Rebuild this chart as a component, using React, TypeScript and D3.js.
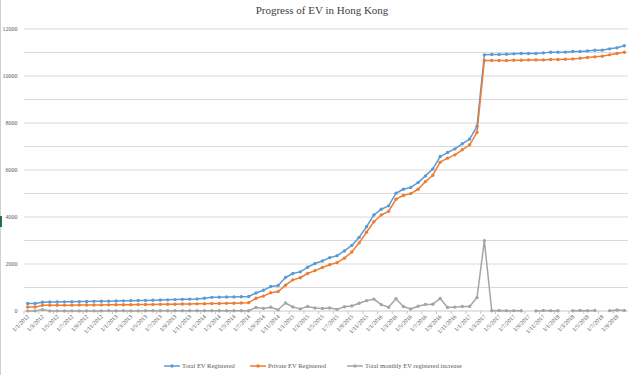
import React from "react";
import * as d3 from "d3";

const categories: string[] = [
  "1/1/2012","1/2/2012","1/3/2012","1/4/2012","1/5/2012","1/6/2012","1/7/2012","1/8/2012","1/9/2012","1/10/2012","1/11/2012","1/12/2012",
  "1/1/2013","1/2/2013","1/3/2013","1/4/2013","1/5/2013","1/6/2013","1/7/2013","1/8/2013","1/9/2013","1/10/2013","1/11/2013","1/12/2013",
  "1/1/2014","1/2/2014","1/3/2014","1/4/2014","1/5/2014","1/6/2014","1/7/2014","1/8/2014","1/9/2014","1/10/2014","1/11/2014","1/12/2014",
  "1/1/2015","1/2/2015","1/3/2015","1/4/2015","1/5/2015","1/6/2015","1/7/2015","1/8/2015","1/9/2015","1/10/2015","1/11/2015","1/12/2015",
  "1/1/2016","1/2/2016","1/3/2016","1/4/2016","1/5/2016","1/6/2016","1/7/2016","1/8/2016","1/9/2016","1/10/2016","1/11/2016","1/12/2016",
  "1/1/2017","1/2/2017","1/3/2017","1/4/2017","1/5/2017","1/6/2017","1/7/2017","1/8/2017","1/9/2017","1/10/2017","1/11/2017","1/12/2017",
  "1/1/2018","1/2/2018","1/3/2018","1/4/2018","1/5/2018","1/6/2018","1/7/2018","1/8/2018","1/9/2018","1/10/2018",
];

const totalEV: number[] = [
  320, 322, 375, 380, 385, 390, 395, 400, 405, 410, 415, 420,
  428, 432, 440, 445, 450, 460, 468, 475, 485, 495, 505, 515,
  545, 580, 590, 595, 600, 605, 615, 768, 883, 1040, 1084, 1425,
  1596, 1665, 1860, 2023, 2128, 2270, 2355, 2555, 2791, 3133, 3585, 4090,
  4328, 4475, 5011, 5181, 5258, 5463, 5749, 6047, 6573, 6743, 6901, 7115,
  7315, 7860, 10900, 10913, 10913, 10927, 10942, 10956, 10956, 10962, 10984, 11010,
  11010, 11015, 11041, 11045, 11069, 11096, 11100, 11156, 11198, 11285,
];

const privateEV: number[] = [
  170, 170, 240, 242, 245, 248, 250, 253, 256, 258, 260, 262,
  265, 268, 270, 273, 276, 280, 283, 286, 290, 295, 300, 305,
  310, 315, 320, 325, 330, 340, 355, 540, 635, 775, 825, 1097,
  1325, 1415, 1596, 1720, 1852, 1970, 2058, 2250, 2510, 2898, 3350, 3800,
  4085, 4240, 4755, 4918, 4995, 5181, 5506, 5779, 6333, 6504, 6645, 6859,
  7072, 7600, 10657, 10657, 10657, 10660, 10670, 10670, 10685, 10685, 10685, 10700,
  10700, 10713, 10727, 10755, 10785, 10815, 10841, 10900, 10956, 11011,
];

const monthlyIncrease: (number | null)[] = [
  5, 5, 60, 5, 5, 5, 5, 5, 5, 5, 5, 8,
  5, 8, 5, 5, 10, 8, 8, 10, 10, 10, 10, 12,
  10, 12, 10, 10, 10, 12, 12, 150, 110, 160, 50, 341,
  171, 90, 190, 130, 110, 130, 70, 180, 215, 330, 440, 505,
  270, 160, 520, 190, 86, 205, 280, 290, 530, 150, 165, 190,
  195, 570, 2990, 10, 25, 15, 15, 10, null, 5, 25, 15,
  10, null, 10, 25, 10, 20, null, 15, 40, 25,
];

const yTickLabels: number[] = [0, 2000, 4000, 6000, 8000, 10000, 12000];
const gridValues: number[] = [1000, 2000, 3000, 4000, 5000, 6000, 7000, 8000, 9000, 10000, 11000, 12000];

const seriesNames = ["Total EV Registered", "Private EV Registered", "Total monthly EV registered increase"];
const seriesColors = ["#5B9BD5", "#ED7D31", "#A5A5A5"];

const FONT = "'Liberation Serif', 'DejaVu Serif', serif";

export default function App() {
  const W = 640;
  const H = 375;
  const idx = d3.range(categories.length);
  const x = d3.scalePoint<number>().domain(idx).range([24, 628]).padding(0.5);
  const y = d3.scaleLinear().domain([0, 12000]).range([311, 29]);

  const seriesData = [totalEV, privateEV, monthlyIncrease];
  const line = d3
    .line<number | null>()
    .defined((d) => d != null)
    .x((_, i) => x(i) as number)
    .y((d) => y(d as number));

  const legendItems = [
    { lx: 172, tx: 182 },
    { lx: 258, tx: 268 },
    { lx: 355, tx: 365 },
  ];

  return (
    <svg
      width={W}
      height={H}
      style={{ position: "absolute", left: 0, top: 0, background: "#fff" }}
      fontFamily={FONT}
    >
      <rect x={0} y={0} width={W} height={H} fill="#fff" />
      <line x1={0.5} x2={0.5} y1={0} y2={H} stroke="#d0d0d0" />
      <rect x={0} y={216} width={2} height={11} fill="#217346" />

      <text x={322} y={14} textAnchor="middle" fontSize={11} fill="#404040">
        Progress of EV in Hong Kong
      </text>

      {gridValues.map((v) => (
        <line key={v} x1={24} x2={628} y1={y(v)} y2={y(v)} stroke="#d9d9d9" strokeWidth={1} />
      ))}
      <line x1={24} x2={628} y1={y(0)} y2={y(0)} stroke="#c8c8c8" strokeWidth={1} />

      {yTickLabels.map((v) => (
        <text key={v} x={17.5} y={y(v) + 2} textAnchor="end" fontSize={6} fill="#595959">
          {v}
        </text>
      ))}

      {idx
        .filter((i) => i % 2 === 0)
        .map((i) => {
          const px = x(i) as number;
          return (
            <g key={i}>
              <line x1={px - 3.7} x2={px - 3.7} y1={311} y2={314} stroke="#c8c8c8" />
              <text
                transform={`translate(${px + 2},${317}) rotate(-45)`}
                textAnchor="end"
                fontSize={6}
                fill="#595959"
              >
                {categories[i]}
              </text>
            </g>
          );
        })}

      {seriesData.map((data, s) => (
        <g key={s}>
          <path d={line(data) || ""} fill="none" stroke={seriesColors[s]} strokeWidth={1.5} strokeLinejoin="round" />
          {data.map((d, i) =>
            d == null ? null : (
              <circle key={i} cx={x(i) as number} cy={y(d)} r={1.7} fill={seriesColors[s]} />
            )
          )}
        </g>
      ))}

      {legendItems.map((it, s) => (
        <g key={s}>
          <line x1={it.lx - 8} x2={it.lx + 8} y1={366} y2={366} stroke={seriesColors[s]} strokeWidth={1.5} />
          <circle cx={it.lx} cy={366} r={1.7} fill={seriesColors[s]} />
          <text x={it.tx} y={368.2} fontSize={6.5} fill="#595959">
            {seriesNames[s]}
          </text>
        </g>
      ))}
    </svg>
  );
}
